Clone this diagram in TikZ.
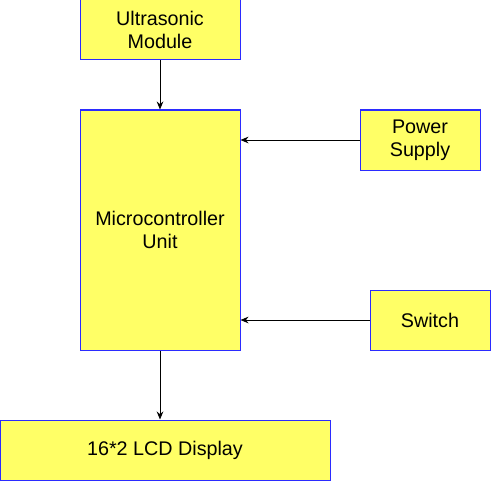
\documentclass[tikz,border=0pt]{standalone}
\usepackage{fontspec}
\setmainfont{Liberation Sans}
\usetikzlibrary{arrows.meta}
\definecolor{boxfill}{HTML}{FFFF66}
\definecolor{boxline}{HTML}{2B2BFF}
\begin{document}
\begin{tikzpicture}[x=0.75pt, y=-0.75pt,
    block/.style={draw=boxline, fill=boxfill, line width=0.75pt,
      inner sep=0pt, align=center,
      font=\fontsize{14.8pt}{17.3pt}\selectfont},
    link/.style={-{Stealth[length=6pt, width=5pt]}, line width=0.75pt}]
    \useasboundingbox (0,0) rectangle (491,481);

    \path
    (160, 30) node[block, minimum width=120pt, minimum height=45pt]  (ultra)  {Ultrasonic\\Module}
    (160,230) node[block, minimum width=120pt, minimum height=180pt] (mcu)    {Microcontroller\\Unit}
    (420,140) node[block, minimum width=90pt,  minimum height=45pt]  (power)  {Power\\Supply}
    (430,320) node[block, minimum width=90pt,  minimum height=45pt]  (switch) {Switch}
    (165,450) node[block, minimum width=247.5pt, minimum height=45pt] (lcd)   {16*2 LCD Display};

    \draw[link] (ultra) -- (mcu);
    \draw[link] (power) -- (power -| mcu.east);
    \draw[link] (switch) -- (switch -| mcu.east);
    \draw[link] (mcu.south) -- (mcu.south |- lcd.north);

  \end{tikzpicture}
\end{document}
